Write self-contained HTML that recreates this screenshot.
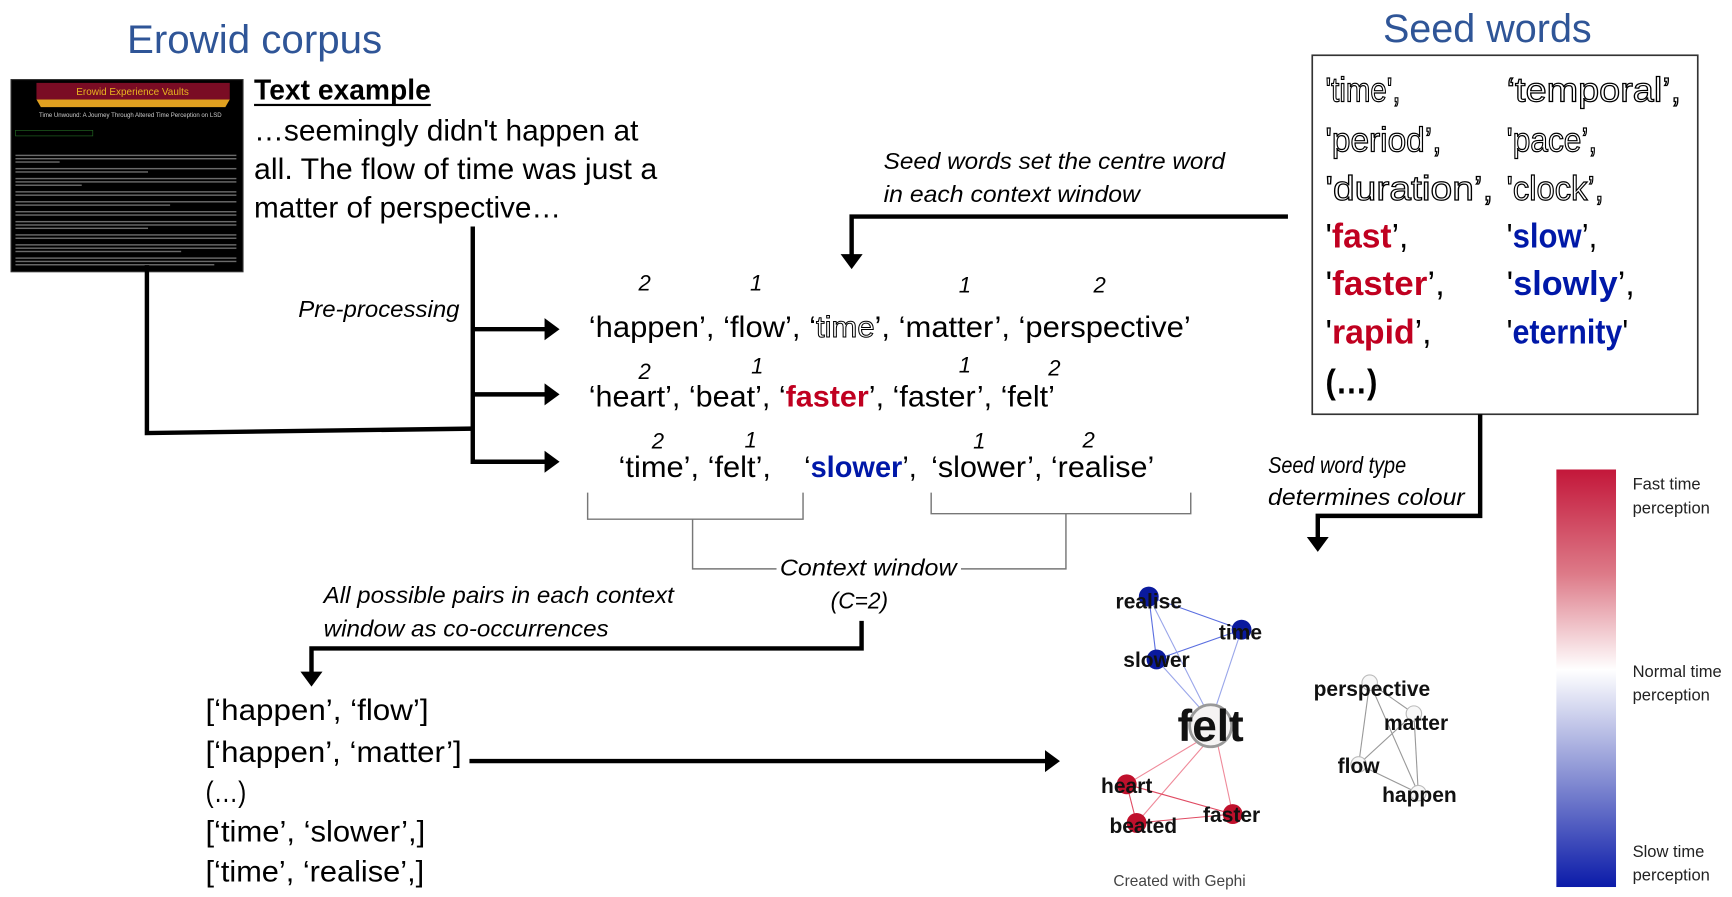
<!DOCTYPE html>
<html><head><meta charset="utf-8"><style>
html,body{margin:0;padding:0;background:#fff;}
svg{display:block}
text{font-family:"Liberation Sans Narrow","Liberation Sans",sans-serif;}
.it{font-style:italic;}
.ar{font-family:"Liberation Sans",sans-serif;font-weight:bold;}
</style></head><body>
<svg width="1732" height="897" viewBox="0 0 1568 812" xmlns="http://www.w3.org/2000/svg">
<defs>
<linearGradient id="cb" x1="0" y1="0" x2="0" y2="1">
<stop offset="0" stop-color="#c3173a"/>
<stop offset="0.25" stop-color="#dd7a88"/>
<stop offset="0.48" stop-color="#ffffff"/>
<stop offset="0.72" stop-color="#8f97d6"/>
<stop offset="1" stop-color="#0b1ba9"/>
</linearGradient>
<marker id="ah" markerWidth="6" markerHeight="6" refX="2.5" refY="2.5" orient="auto" markerUnits="strokeWidth">
<path d="M0,0 L3.4,2.5 L0,5 z" fill="#000"/></marker>
</defs>

<text x="115" y="48" font-size="36" fill="#2f5597" textLength="231" lengthAdjust="spacingAndGlyphs">Erowid corpus</text>
<text x="1252" y="38" font-size="36" fill="#2f5597" textLength="189" lengthAdjust="spacingAndGlyphs">Seed words</text>

<rect x="10" y="72" width="210" height="174" fill="#000" stroke="#333"/>
<rect x="33" y="75" width="175" height="15" fill="#7a0c24"/>
<text x="120" y="86" font-size="9" fill="#e8b520" text-anchor="middle" font-family="Liberation Serif">Erowid Experience Vaults</text>
<path d="M33,90 L208,90 L204,97 L37,97 z" fill="#e0a020"/>
<text x="118" y="106" font-size="5.5" fill="#ccc" text-anchor="middle">Time Unwound: A Journey Through Altered Time Perception on LSD</text>
<g fill="#6a6a6a">
<rect x="14" y="140" width="200" height="1.3"/><rect x="14" y="143" width="200" height="1.3"/><rect x="14" y="146" width="40" height="1.3"/>
<rect x="14" y="152" width="200" height="1.3"/><rect x="14" y="155" width="120" height="1.3"/>
<rect x="14" y="161" width="200" height="1.3"/><rect x="14" y="164" width="200" height="1.3"/><rect x="14" y="167" width="60" height="1.3"/>
<rect x="14" y="173" width="200" height="1.3"/><rect x="14" y="176" width="200" height="1.3"/>
<rect x="14" y="182" width="200" height="1.3"/><rect x="14" y="185" width="140" height="1.3"/>
<rect x="14" y="191" width="200" height="1.3"/><rect x="14" y="194" width="200" height="1.3"/>
<rect x="14" y="200" width="200" height="1.3"/><rect x="14" y="203" width="200" height="1.3"/><rect x="14" y="206" width="120" height="1.3"/>
<rect x="14" y="212" width="200" height="1.3"/><rect x="14" y="215" width="200" height="1.3"/>
<rect x="14" y="221" width="200" height="1.3"/><rect x="14" y="224" width="200" height="1.3"/><rect x="14" y="227" width="150" height="1.3"/>
<rect x="14" y="233" width="200" height="1.3"/><rect x="14" y="236" width="200" height="1.3"/><rect x="14" y="239" width="180" height="1.3"/>
</g>
<rect x="14" y="118" width="70" height="5" fill="none" stroke="#262" stroke-width="0.6"/>

<text x="230" y="90" font-size="26" font-weight="bold" textLength="160" lengthAdjust="spacingAndGlyphs">Text example</text>
<rect x="230" y="94" width="160" height="2" fill="#000"/>
<text x="230" y="127" font-size="27" textLength="348" lengthAdjust="spacingAndGlyphs">…seemingly didn't happen at</text>
<text x="230" y="162" font-size="27" textLength="365" lengthAdjust="spacingAndGlyphs">all. The flow of time was just a</text>
<text x="230" y="197" font-size="27" textLength="278" lengthAdjust="spacingAndGlyphs">matter of perspective…</text>

<g stroke="#000" stroke-width="4" fill="none">
<path d="M428,205 L428,420"/>
<path d="M133,240 L133,392 L428,388"/>
<path d="M428,298 L503,298" marker-end="url(#ah)"/>
<path d="M428,357 L503,357" marker-end="url(#ah)"/>
<path d="M428,418 L503,418" marker-end="url(#ah)"/>
</g>
<text x="270" y="287" font-size="21" class="it" textLength="146" lengthAdjust="spacingAndGlyphs">Pre-processing</text>

<text x="800" y="153" font-size="21" class="it" textLength="309" lengthAdjust="spacingAndGlyphs">Seed words set the centre word</text>
<text x="800" y="183" font-size="21" class="it" textLength="232" lengthAdjust="spacingAndGlyphs">in each context window</text>
<path d="M1166,196 L771,196 L771,240" stroke="#000" stroke-width="4" fill="none" marker-end="url(#ah)"/>

<rect x="1188" y="50" width="349" height="325" fill="none" stroke="#333" stroke-width="1.5"/>
<g font-size="31">
<text x="1200" y="92" fill="#fff" stroke="#000" stroke-width="1.1" textLength="68" lengthAdjust="spacingAndGlyphs">'time',</text>
<text x="1364" y="92" fill="#fff" stroke="#000" stroke-width="1.1" textLength="158" lengthAdjust="spacingAndGlyphs">‘temporal’,</text>
<text x="1200" y="137" fill="#fff" stroke="#000" stroke-width="1.1" textLength="105" lengthAdjust="spacingAndGlyphs">'period’,</text>
<text x="1364" y="137" fill="#fff" stroke="#000" stroke-width="1.1" textLength="82" lengthAdjust="spacingAndGlyphs">'pace’,</text>
<text x="1200" y="181" fill="#fff" stroke="#000" stroke-width="1.1" textLength="152" lengthAdjust="spacingAndGlyphs">'duration’,</text>
<text x="1364" y="181" fill="#fff" stroke="#000" stroke-width="1.1" textLength="88" lengthAdjust="spacingAndGlyphs">'clock’,</text>
<text x="1200" y="224" textLength="75" lengthAdjust="spacingAndGlyphs">'<tspan fill="#c00020" font-weight="bold">fast</tspan>’,</text>
<text x="1364" y="224" textLength="82" lengthAdjust="spacingAndGlyphs">'<tspan fill="#0018a8" font-weight="bold">slow</tspan>’,</text>
<text x="1200" y="267" textLength="108" lengthAdjust="spacingAndGlyphs">'<tspan fill="#c00020" font-weight="bold">faster</tspan>’,</text>
<text x="1364" y="267" textLength="116" lengthAdjust="spacingAndGlyphs">'<tspan fill="#0018a8" font-weight="bold">slowly</tspan>’,</text>
<text x="1200" y="311" textLength="96" lengthAdjust="spacingAndGlyphs">'<tspan fill="#c00020" font-weight="bold">rapid</tspan>’,</text>
<text x="1364" y="311" textLength="110" lengthAdjust="spacingAndGlyphs">'<tspan fill="#0018a8" font-weight="bold">eternity</tspan>'</text>
<text x="1200" y="356" font-weight="bold" textLength="47" lengthAdjust="spacingAndGlyphs">(…)</text>
</g>

<g font-size="20" class="it">
<text x="578" y="263">2</text><text x="679" y="263">1</text><text x="868" y="265">1</text><text x="990" y="265">2</text>
<text x="578" y="343">2</text><text x="680" y="338">1</text><text x="868" y="337">1</text><text x="949" y="340">2</text>
<text x="590" y="406">2</text><text x="674" y="405">1</text><text x="881" y="406">1</text><text x="980" y="405">2</text>
</g>
<g font-size="27">
<text x="533" y="305" textLength="545" lengthAdjust="spacingAndGlyphs">‘happen’, ‘flow’, ‘<tspan fill="#fff" stroke="#000" stroke-width="0.9">time</tspan>’, ‘matter’, ‘perspective’</text>
<text x="533" y="368" textLength="422" lengthAdjust="spacingAndGlyphs">‘heart’, ‘beat’, ‘<tspan fill="#c00020" font-weight="bold">faster</tspan>’, ‘faster’, ‘felt’</text>
<text x="560" y="432" textLength="138" lengthAdjust="spacingAndGlyphs">‘time’, ‘felt’,</text>
<text x="728" y="432" textLength="102" lengthAdjust="spacingAndGlyphs">‘<tspan fill="#0018a8" font-weight="bold">slower</tspan>’,</text>
<text x="843" y="432" textLength="202" lengthAdjust="spacingAndGlyphs">‘slower’, ‘realise’</text>
</g>

<g stroke="#777" stroke-width="1.3" fill="none">
<path d="M532,446 L532,470 L727,470 L727,446"/>
<path d="M627,470 L627,515 L703,515"/>
<path d="M843,446 L843,465 L1078,465 L1078,446"/>
<path d="M965,465 L965,515 L870,515"/>
</g>
<text x="706" y="521" font-size="21" class="it" textLength="160" lengthAdjust="spacingAndGlyphs">Context window</text>
<text x="752" y="551" font-size="21" class="it" textLength="52" lengthAdjust="spacingAndGlyphs">(C=2)</text>

<text x="293" y="546" font-size="21" class="it" textLength="317" lengthAdjust="spacingAndGlyphs">All possible pairs in each context</text>
<text x="293" y="576" font-size="21" class="it" textLength="258" lengthAdjust="spacingAndGlyphs">window as co-occurrences</text>
<path d="M780,562 L780,587 L282,587 L282,618" stroke="#000" stroke-width="4" fill="none" marker-end="url(#ah)"/>

<g font-size="27">
<text x="186" y="652" textLength="202" lengthAdjust="spacingAndGlyphs">[‘happen’, ‘flow’]</text>
<text x="186" y="690" textLength="232" lengthAdjust="spacingAndGlyphs">[‘happen’, ‘matter’]</text>
<text x="186" y="726" textLength="37" lengthAdjust="spacingAndGlyphs">(…)</text>
<text x="186" y="762" textLength="199" lengthAdjust="spacingAndGlyphs">[‘time’, ‘slower’,]</text>
<text x="186" y="798" textLength="198" lengthAdjust="spacingAndGlyphs">[‘time’, ‘realise’,]</text>
</g>
<path d="M425,689 L956,689" stroke="#000" stroke-width="4" fill="none" marker-end="url(#ah)"/>

<path d="M1340,375 L1340,467 L1193,467 L1193,496" stroke="#000" stroke-width="4" fill="none" marker-end="url(#ah)"/>
<text x="1148" y="428" font-size="21" class="it" textLength="125" lengthAdjust="spacingAndGlyphs">Seed word type</text>
<text x="1148" y="457" font-size="21" class="it" textLength="178" lengthAdjust="spacingAndGlyphs">determines colour</text>

<g stroke-width="1">
<g stroke="#5a6ee0">
<line x1="1040" y1="540" x2="1124" y2="570"/><line x1="1040" y1="540" x2="1047" y2="597"/>
<line x1="1047" y1="597" x2="1124" y2="570"/>
</g>
<g stroke="#9aa6ea">
<line x1="1040" y1="540" x2="1093" y2="645"/><line x1="1047" y1="597" x2="1090" y2="645"/><line x1="1124" y1="570" x2="1100" y2="642"/>
</g>
<g stroke="#ef8a9a">
<line x1="1090" y1="668" x2="1020" y2="710"/><line x1="1094" y1="670" x2="1029" y2="745"/><line x1="1102" y1="672" x2="1116" y2="737"/>
</g>
<g stroke="#e04a62">
<line x1="1020" y1="710" x2="1116" y2="737"/><line x1="1020" y1="710" x2="1029" y2="745"/><line x1="1029" y1="745" x2="1116" y2="737"/>
</g>
<g stroke="#999">
<line x1="1240" y1="618" x2="1280" y2="646"/><line x1="1240" y1="618" x2="1230" y2="692"/><line x1="1240" y1="618" x2="1284" y2="718"/>
<line x1="1280" y1="646" x2="1230" y2="692"/><line x1="1280" y1="646" x2="1284" y2="718"/><line x1="1230" y1="692" x2="1284" y2="718"/>
</g>
</g>
<g>
<circle cx="1040" cy="540" r="9" fill="#0a1a9e"/>
<circle cx="1124" cy="570" r="9" fill="#0a1a9e"/>
<circle cx="1047" cy="597" r="9" fill="#0a1a9e"/>
<circle cx="1096" cy="657" r="19" fill="#f5f3f3" stroke="#999" stroke-width="2.5"/>
<circle cx="1020" cy="710" r="9" fill="#c0102c"/>
<circle cx="1029" cy="745" r="9" fill="#c0102c"/>
<circle cx="1116" cy="737" r="9" fill="#c0102c"/>
<circle cx="1240" cy="618" r="7" fill="#f8f8f8" stroke="#bbb"/>
<circle cx="1280" cy="646" r="7" fill="#f8f8f8" stroke="#bbb"/>
<circle cx="1230" cy="692" r="7" fill="#f8f8f8" stroke="#bbb"/>
<circle cx="1284" cy="718" r="7" fill="#f8f8f8" stroke="#bbb"/>
</g>
<g class="ar" font-size="19" text-anchor="middle" fill="#111">
<text x="1040" y="551">realise</text>
<text x="1123" y="579">time</text>
<text x="1047" y="604">slower</text>
<text x="1096" y="671" font-size="40">felt</text>
<text x="1020" y="718">heart</text>
<text x="1035" y="754">beated</text>
<text x="1115" y="744">faster</text>
<text x="1242" y="630">perspective</text>
<text x="1282" y="661">matter</text>
<text x="1230" y="700">flow</text>
<text x="1285" y="726">happen</text>
</g>
<text x="1008" y="802" font-size="14" fill="#444">Created with Gephi</text>

<rect x="1409" y="425" width="54" height="378" fill="url(#cb)"/>
<g font-size="15" fill="#222">
<text x="1478" y="443">Fast time</text><text x="1478" y="465">perception</text>
<text x="1478" y="613">Normal time</text><text x="1478" y="634">perception</text>
<text x="1478" y="776">Slow time</text><text x="1478" y="797">perception</text>
</g>
</svg>
</body></html>
